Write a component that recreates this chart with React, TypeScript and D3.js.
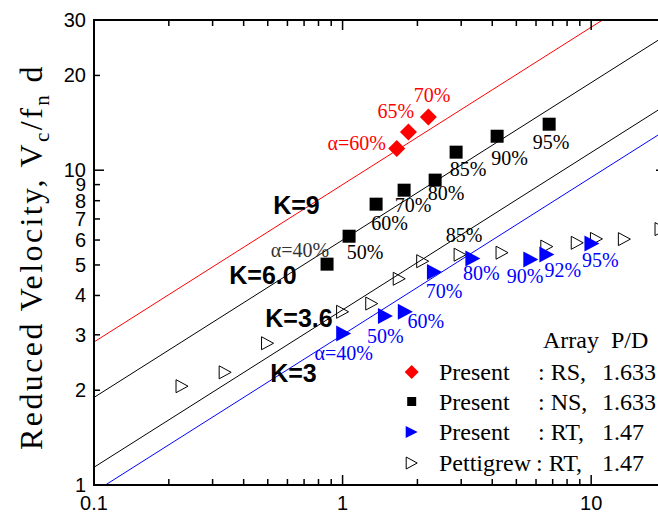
import React from 'react';
import * as d3 from 'd3';

// ---- Data ----
const kValues = [9, 6.0, 3.6, 3];
const kLabels = ['K=9', 'K=6.0', 'K=3.6', 'K=3'];
const lineXDomain = [0.1, 20];

const rsX = [1.652, 1.84, 2.214];
const rsY = [11.72, 13.23, 14.77];
const rsLabels = ['α=60%', '65%', '70%'];

const nsX = [0.866, 1.062, 1.364, 1.768, 2.357, 2.862, 4.185, 6.776];
const nsY = [5.03, 6.17, 7.8, 8.64, 9.3, 11.41, 12.82, 14.0];
const nsLabels = ['α=40%', '50%', '60%', '70%', '80%', '85%', '90%', '95%'];

const rtX = [1.01, 1.487, 1.788, 2.342, 3.342, 5.718, 6.633, 10.07];
const rtY = [3.031, 3.44, 3.55, 4.746, 5.245, 5.207, 5.401, 5.852];
const rtLabels = ['α=40%', '50%', '60%', '70%', '80%', '90%', '92%', '95%'];

const pgX = [0.226, 0.337, 0.499, 1.0, 1.31, 1.69, 2.1, 2.97, 4.38, 6.63, 8.79, 10.5, 13.6, 19.1];
const pgY = [2.06, 2.28, 2.82, 3.55, 3.77, 4.52, 5.14, 5.39, 5.47, 5.72, 5.88, 6.05, 6.04, 6.5];
const pgLabels = ['', '', '', '', '', '', '', '85%', '', '', '', '', '', ''];

const yTicks = [1, 2, 3, 4, 5, 6, 7, 8, 9, 10, 20, 30];
const yTickLabels = ['1', '2', '3', '4', '5', '6', '7', '8', '9', '10', '20', '30'];
const yMajor = [1, 10];
const xMajor = [0.1, 1, 10];
const xMajorLabels = ['0.1', '1', '10'];
const xMinor = [0.2, 0.3, 0.4, 0.5, 0.6, 0.7, 0.8, 0.9, 2, 3, 4, 5, 6, 7, 8, 9];

const legendNames = ['Present', 'Present', 'Present', 'Pettigrew'];
const legendArrays = [': RS,', ': NS,', ': RT,', ': RT,'];
const legendPD = ['1.633', '1.633', '1.47', '1.47'];

// ---- Layout ----
const W = 658, H = 516;
const L = 94, R = 666, T = 20, B = 485;
const kColors = ['#ff0000', '#000000', '#000000', '#0000ff'];
const kLabelPos = [[296.5, 205], [263, 275], [299, 318], [293.5, 373]];
const rsOff = [[-40, -5], [-12.5, -21], [3.7, -22]];
const nsOff = [[-27, -14], [16, 16], [13.5, 18.7], [9, 15], [11, 13], [12, 17], [12.5, 22], [2, 18]];
const rtOff = [[0, 19.5], [0, 19.7], [20.4, 9], [9.7, 18.7], [8.6, 14.7], [-5.7, 16.7], [16, 15.7], [8.3, 16.7]];
const pgOff = pgLabels.map(() => [4, -19.5]);

const serif = '"Liberation Serif", "Times New Roman", serif';
const sans = '"Liberation Sans", Arial, sans-serif';

const x = d3.scaleLog().domain([0.1, 20]).range([L, R]);
const y = d3.scaleLog().domain([1, 30]).range([B, T]);

function diamond(cx: number, cy: number, r: number) {
  return `M${cx},${cy - r}L${cx + r},${cy}L${cx},${cy + r}L${cx - r},${cy}Z`;
}
function triRight(cx: number, cy: number, w: number, h: number) {
  return `M${cx - w / 2},${cy - h / 2}L${cx + w / 2},${cy}L${cx - w / 2},${cy + h / 2}Z`;
}

export default function App() {
  const lineGen = d3.line<[number, number]>().x(d => x(d[0])).y(d => y(d[1]));
  const kLines = kValues.map(k => lineGen(lineXDomain.map(v => [v, k * Math.sqrt(v)] as [number, number])));

  const pctStyle = { fontFamily: serif, fontSize: 20 } as const;

  return (
    <svg width={W} height={H} style={{ position: 'absolute', left: 0, top: 0, background: '#fff' }}>
      <defs>
        <clipPath id="plot">
          <rect x={L} y={T} width={R - L} height={B - T} />
        </clipPath>
      </defs>
      <rect x={0} y={0} width={W} height={H} fill="#fff" />

      {/* theory lines */}
      <g clipPath="url(#plot)">
        {kLines.map((d, i) => (
          <path key={i} d={d || ''} fill="none" stroke={kColors[i]} strokeWidth={1} />
        ))}
      </g>

      {/* K labels */}
      {kLabels.map((t, i) => (
        <text key={t} x={kLabelPos[i][0]} y={kLabelPos[i][1]} textAnchor="middle" dominantBaseline="central"
          fontFamily={sans} fontWeight="bold" fontSize={25} fill="#000">{t}</text>
      ))}

      {/* markers */}
      <g clipPath="url(#plot)">
        {pgX.map((v, i) => (
          <path key={'pg' + i} d={triRight(x(v), y(pgY[i]), 12, 13)} fill="none" stroke="#000" strokeWidth={1} />
        ))}
        {nsX.map((v, i) => (
          <rect key={'ns' + i} x={x(v) - 6.5} y={y(nsY[i]) - 6.5} width={13} height={13} fill="#000" />
        ))}
        {rsX.map((v, i) => (
          <path key={'rs' + i} d={diamond(x(v), y(rsY[i]), 8.5)} fill="#ff0000" />
        ))}
        {rtX.map((v, i) => (
          <path key={'rt' + i} d={triRight(x(v), y(rtY[i]), 15, 16)} fill="#0000ff" />
        ))}
      </g>

      {/* point labels */}
      {rsLabels.map((t, i) => (
        <text key={'rsl' + i} x={x(rsX[i]) + rsOff[i][0]} y={y(rsY[i]) + rsOff[i][1]} textAnchor="middle"
          dominantBaseline="central" fill="#ff0000" {...pctStyle}>{t}</text>
      ))}
      {nsLabels.map((t, i) => (
        <text key={'nsl' + i} x={x(nsX[i]) + nsOff[i][0]} y={y(nsY[i]) + nsOff[i][1]} textAnchor="middle"
          dominantBaseline="central" fill={i === 0 ? '#333' : '#000'} {...pctStyle}>{t}</text>
      ))}
      {rtLabels.map((t, i) => (
        <text key={'rtl' + i} x={x(rtX[i]) + rtOff[i][0]} y={y(rtY[i]) + rtOff[i][1]} textAnchor="middle"
          dominantBaseline="central" fill="#0000ff" {...pctStyle}>{t}</text>
      ))}
      {pgLabels.map((t, i) => t ? (
        <text key={'pgl' + i} x={x(pgX[i]) + pgOff[i][0]} y={y(pgY[i]) + pgOff[i][1]} textAnchor="middle"
          dominantBaseline="central" fill="#000" {...pctStyle}>{t}</text>
      ) : null)}

      {/* axes frame */}
      <rect x={L} y={T} width={R - L} height={B - T} fill="none" stroke="#000" strokeWidth={2} />

      {/* y ticks */}
      {yTicks.map((v, i) => {
        const len = yMajor.includes(v) ? 10 : 6;
        return (
          <g key={'yt' + i}>
            <line x1={L} x2={L + len} y1={y(v)} y2={y(v)} stroke="#000" strokeWidth={1.5} />
            <line x1={R} x2={R - len} y1={y(v)} y2={y(v)} stroke="#000" strokeWidth={1.5} />
            <text x={L - 8} y={y(v)} textAnchor="end" dominantBaseline="central" fontFamily={sans} fontSize={v === 9 ? 19 : 20} fill="#000">{yTickLabels[i]}</text>
          </g>
        );
      })}
      {/* x ticks */}
      {xMajor.map((v, i) => (
        <g key={'xm' + i}>
          <line x1={x(v)} x2={x(v)} y1={B} y2={B - 10} stroke="#000" strokeWidth={1.5} />
          <line x1={x(v)} x2={x(v)} y1={T} y2={T + 10} stroke="#000" strokeWidth={1.5} />
          <text x={x(v)} y={510} textAnchor="middle" fontFamily={sans} fontSize={20} fill="#000">{xMajorLabels[i]}</text>
        </g>
      ))}
      {xMinor.map((v, i) => (
        <g key={'xn' + i}>
          <line x1={x(v)} x2={x(v)} y1={B} y2={B - 6} stroke="#000" strokeWidth={1.5} />
          <line x1={x(v)} x2={x(v)} y1={T} y2={T + 6} stroke="#000" strokeWidth={1.5} />
        </g>
      ))}

      {/* y axis title */}
      <text transform="translate(42,257) rotate(-90)" textAnchor="middle" fontFamily={serif} fontSize={32} letterSpacing={2.4} fill="#000">
        Reduced Velocity, V<tspan fontSize={21} dy={7}>c</tspan><tspan dy={-7}>/f</tspan><tspan fontSize={21} dy={7}>n</tspan><tspan dy={-7}> d</tspan>
      </text>

      {/* legend */}
      <text x={543} y={348} fontFamily={serif} fontSize={24} fill="#000" style={{ whiteSpace: 'pre' }}>Array  P/D</text>
      {legendNames.map((n, i) => {
        const cy = [372, 401.5, 432, 463][i];
        const base = [379.5, 409.5, 440, 471][i];
        let marker;
        if (i === 0) marker = <path d={diamond(411.7, cy, 7)} fill="#ff0000" />;
        else if (i === 1) marker = <rect x={411.7 - 4.5} y={cy - 4.5} width={9} height={9} fill="#000" />;
        else if (i === 2) marker = <path d={triRight(411.7, cy, 12, 12)} fill="#0000ff" />;
        else marker = <path d={triRight(411.7, cy, 11, 12)} fill="none" stroke="#000" strokeWidth={1} />;
        return (
          <g key={'lg' + i}>
            {marker}
            <text x={439} y={base} fontFamily={serif} fontSize={24} fill="#000">{n}</text>
            <text x={i === 3 ? 536 : 538} y={base} fontFamily={serif} fontSize={24} fill="#000">{legendArrays[i]}</text>
            <text x={602} y={base} fontFamily={serif} fontSize={24} fill="#000">{legendPD[i]}</text>
          </g>
        );
      })}
    </svg>
  );
}
